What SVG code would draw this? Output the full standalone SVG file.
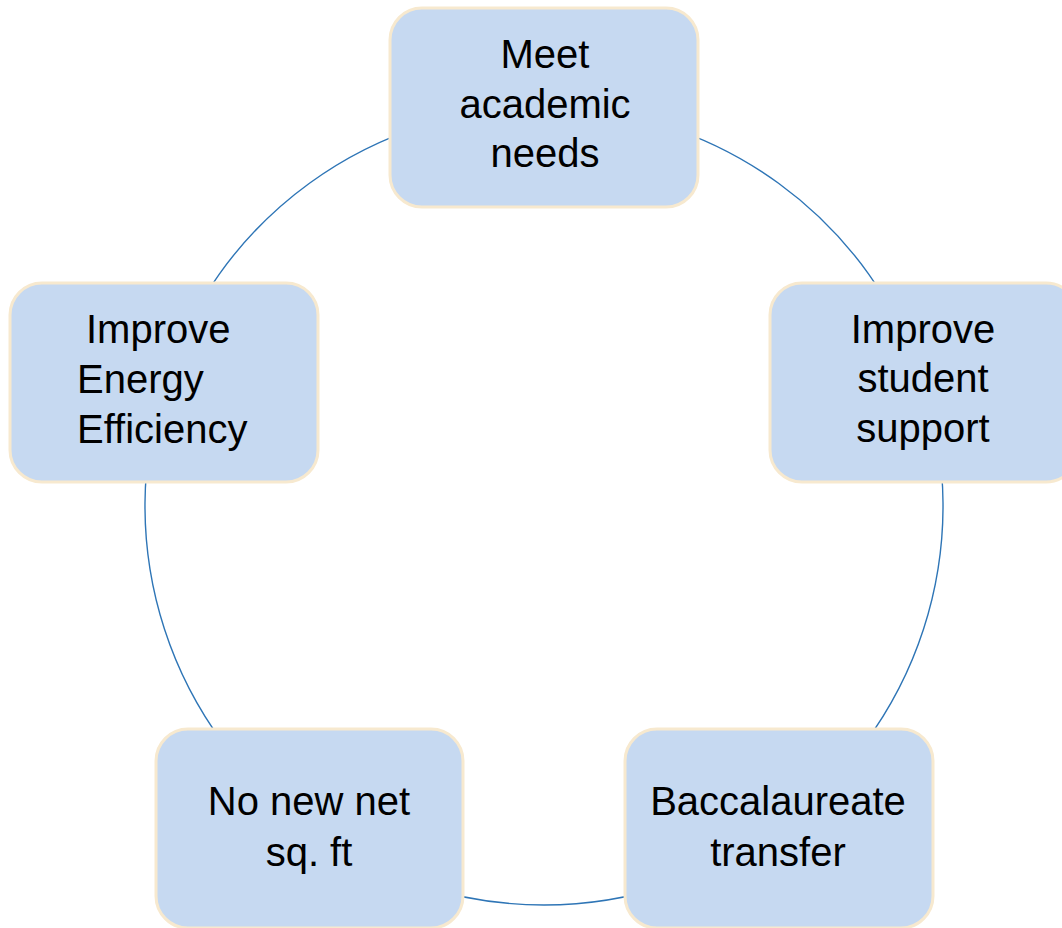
<svg xmlns="http://www.w3.org/2000/svg" width="1062" height="928" viewBox="0 0 1062 928">
<style>
.box{fill:#C6D9F1;stroke:#F7E9CF;stroke-width:3}
.lbl{font-family:"Liberation Sans",Arial,sans-serif;font-size:40px;fill:#000}
.c{text-anchor:middle}
.arc{fill:none;stroke:#2E75B6;stroke-width:1.4}
</style>
<rect width="1062" height="928" fill="#fff"/>
<g id="connectors">
<path class="arc" d="M544,107 A399,399 0 0 1 923.5,382.7"/>
<path class="arc" d="M923.5,382.7 A399,399 0 0 1 778.5,828.8"/>
<path class="arc" d="M778.5,828.8 A399,399 0 0 1 309.5,828.8"/>
<path class="arc" d="M309.5,828.8 A399,399 0 0 1 164.5,382.7"/>
<path class="arc" d="M164.5,382.7 A399,399 0 0 1 544,107"/>
</g>
<g id="node-academic">
<rect class="box" x="390" y="8" width="308" height="199" rx="32"/>
<text class="lbl c" x="545" y="68">Meet</text>
<text class="lbl c" x="545" y="118">academic</text>
<text class="lbl c" x="545" y="167">needs</text>
</g>
<g id="node-student">
<rect class="box" x="770" y="283" width="308" height="199" rx="32"/>
<text class="lbl c" x="923" y="343">Improve</text>
<text class="lbl c" x="923" y="392">student</text>
<text class="lbl c" x="923" y="442">support</text>
</g>
<g id="node-transfer">
<rect class="box" x="625" y="729" width="308" height="199" rx="32"/>
<text class="lbl c" x="778" y="815">Baccalaureate</text>
<text class="lbl c" x="778" y="866">transfer</text>
</g>
<g id="node-sqft">
<rect class="box" x="156" y="729" width="307" height="199" rx="32"/>
<text class="lbl c" x="309" y="815">No new net</text>
<text class="lbl c" x="309" y="866">sq. ft</text>
</g>
<g id="node-energy">
<rect class="box" x="10" y="283" width="308" height="199" rx="32"/>
<text class="lbl" x="86" y="343">Improve</text>
<text class="lbl" x="77" y="393">Energy</text>
<text class="lbl" x="77" y="443">Efficiency</text>
</g>
</svg>
